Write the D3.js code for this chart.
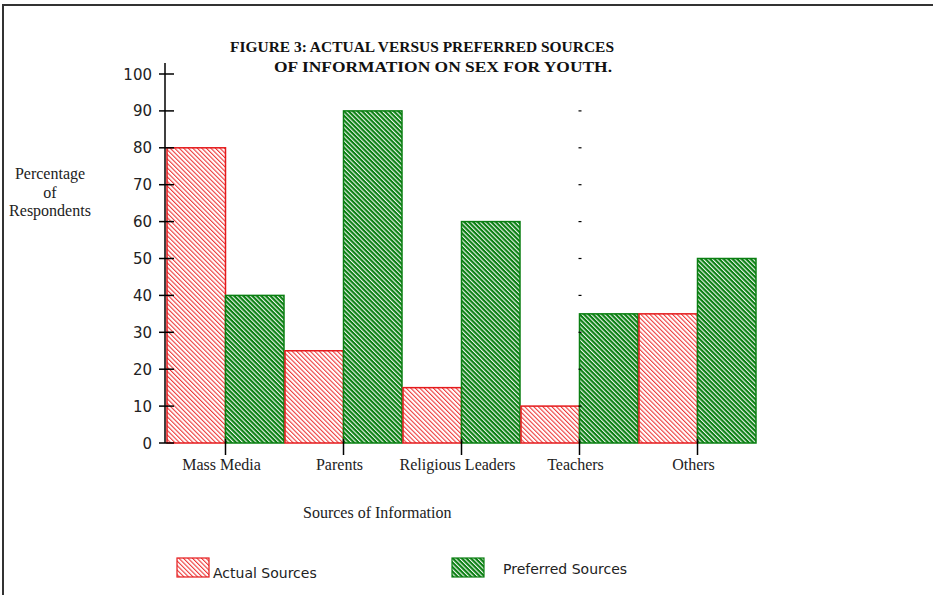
<!DOCTYPE html>
<html>
<head>
<meta charset="utf-8">
<script src="https://cdn.jsdelivr.net/npm/d3@7"></script>
<style>
  body { margin: 0; background: #fff; }
  svg { display: block; }
</style>
</head>
<body>
<div id="chart"></div>
<script>
var categories = ["Mass Media", "Parents", "Religious Leaders", "Teachers", "Others"];
var actualSources = [80, 25, 15, 10, 35];
var preferredSources = [40, 90, 60, 35, 50];
var seriesNames = ["Actual Sources", "Preferred Sources"];
var yTicks = [0, 10, 20, 30, 40, 50, 60, 70, 80, 90, 100];

var w = 933, h = 595;
var red = "#e41a1c", green = "#0a7f12";
var serif = "'Liberation Serif', 'Times New Roman', serif";
var sans = "'DejaVu Sans', Verdana, sans-serif";

var svg = d3.select("#chart").append("svg")
  .attr("width", w)
  .attr("height", h);

// hatch patterns
var defs = svg.append("defs");
var pr = defs.append("pattern")
  .attr("id", "hatchRed")
  .attr("patternUnits", "userSpaceOnUse")
  .attr("width", 3.2).attr("height", 3.2)
  .attr("patternTransform", "rotate(-45)");
pr.append("rect").attr("width", 3.2).attr("height", 3.2).attr("fill", "#fff");
pr.append("rect").attr("width", 1.1).attr("height", 3.2).attr("fill", "#ee3a3a");

var pg = defs.append("pattern")
  .attr("id", "hatchGreen")
  .attr("patternUnits", "userSpaceOnUse")
  .attr("width", 3.2).attr("height", 3.2)
  .attr("patternTransform", "rotate(-45)");
pg.append("rect").attr("width", 3.2).attr("height", 3.2).attr("fill", green);
pg.append("rect").attr("width", 1.1).attr("height", 3.2).attr("fill", "#eef6ee");

// frame
svg.append("rect")
  .attr("x", 3).attr("y", 5)
  .attr("width", 960).attr("height", 620)
  .attr("fill", "none")
  .attr("stroke", "#333")
  .attr("stroke-width", 2);

var y = d3.scaleLinear().domain([0, 100]).range([443, 74]);
var x0 = d3.scaleBand().domain(categories).range([166, 756]);
var x1 = d3.scaleBand().domain(["actual", "preferred"]).range([1, x0.bandwidth()]);

var rows = categories.map(function(c, i) {
  return { cat: c, actual: actualSources[i], preferred: preferredSources[i] };
});

// bars
var groups = svg.selectAll(".grp")
  .data(rows)
  .enter().append("g")
  .attr("class", "grp")
  .attr("transform", function(d) { return "translate(" + x0(d.cat) + ",0)"; });

groups.append("rect")
  .attr("x", x1("actual"))
  .attr("y", function(d) { return y(d.actual); })
  .attr("width", x1.bandwidth())
  .attr("height", function(d) { return y(0) - y(d.actual); })
  .attr("fill", "url(#hatchRed)")
  .attr("stroke", red)
  .attr("stroke-width", 1.5);

groups.append("rect")
  .attr("x", x1("preferred"))
  .attr("y", function(d) { return y(d.preferred); })
  .attr("width", x1.bandwidth())
  .attr("height", function(d) { return y(0) - y(d.preferred); })
  .attr("fill", "url(#hatchGreen)")
  .attr("stroke", green)
  .attr("stroke-width", 1.5);

// y axis
var yAxis = svg.append("g").attr("transform", "translate(165,0)");
yAxis.append("line")
  .attr("x1", 0).attr("x2", 0)
  .attr("y1", 63).attr("y2", y(0))
  .attr("stroke", "#000").attr("stroke-width", 1.5);
yAxis.selectAll(".tk")
  .data(yTicks)
  .enter().append("line")
  .attr("x1", -6).attr("x2", 9)
  .attr("y1", function(d) { return y(d); })
  .attr("y2", function(d) { return y(d); })
  .attr("stroke", "#000").attr("stroke-width", 1.5);
yAxis.selectAll(".lb")
  .data(yTicks)
  .enter().append("text")
  .attr("x", -13)
  .attr("y", function(d) { return y(d) + 5.5; })
  .attr("text-anchor", "end")
  .style("font-family", sans)
  .style("font-size", "15px")
  .attr("fill", "#222")
  .text(function(d) { return d; });

// stray tick dashes in the middle of the chart
svg.selectAll(".dash")
  .data(yTicks.filter(function(d) { return d > 0 && d < 100; }))
  .enter().append("line")
  .attr("x1", x0("Teachers") + x1("preferred") - 1)
  .attr("x2", x0("Teachers") + x1("preferred") + 2)
  .attr("y1", function(d) { return y(d); })
  .attr("y2", function(d) { return y(d); })
  .attr("stroke", "#000").attr("stroke-width", 1.2);

// x ticks + labels
var xt = svg.selectAll(".xt")
  .data(categories)
  .enter().append("g")
  .attr("transform", function(d) { return "translate(" + (x0(d) + x1("preferred")) + "," + y(0) + ")"; });
xt.append("line")
  .attr("y1", -4).attr("y2", 12)
  .attr("stroke", "#000").attr("stroke-width", 1.5);
xt.append("text")
  .attr("x", -4)
  .attr("y", 27)
  .attr("text-anchor", "middle")
  .style("font-family", serif)
  .style("font-size", "16px")
  .attr("fill", "#222")
  .text(function(d) { return d; });

// title
var title = svg.append("text")
  .style("font-family", serif)
  .style("font-size", "14px")
  .style("font-weight", "bold")
  .attr("fill", "#111");
title.append("tspan").attr("x", 230).attr("y", 52)
  .attr("textLength", 384).attr("lengthAdjust", "spacingAndGlyphs")
  .text("FIGURE 3:  ACTUAL VERSUS PREFERRED SOURCES");
title.append("tspan").attr("x", 274).attr("y", 72)
  .attr("textLength", 338).attr("lengthAdjust", "spacingAndGlyphs")
  .text("OF INFORMATION ON SEX FOR YOUTH.");

// y axis title
var yl = svg.append("text")
  .attr("text-anchor", "middle")
  .style("font-family", serif)
  .style("font-size", "16px")
  .attr("fill", "#222");
["Percentage", "of", "Respondents"].forEach(function(t, i) {
  yl.append("tspan").attr("x", 50).attr("y", 179 + i * 18.5).text(t);
});

// x axis title
svg.append("text")
  .attr("x", 303).attr("y", 518)
  .style("font-family", serif)
  .style("font-size", "16px")
  .attr("fill", "#222")
  .text("Sources of Information");

// legend
var legend = [
  { name: seriesNames[0], fill: "url(#hatchRed)", stroke: red, x: 177, y: 558, tx: 213, ty: 578 },
  { name: seriesNames[1], fill: "url(#hatchGreen)", stroke: green, x: 452, y: 558, tx: 503, ty: 574 }
];
var lg = svg.selectAll(".lg").data(legend).enter().append("g");
lg.append("rect")
  .attr("x", function(d) { return d.x; })
  .attr("y", function(d) { return d.y; })
  .attr("width", 32).attr("height", 19)
  .attr("fill", function(d) { return d.fill; })
  .attr("stroke", function(d) { return d.stroke; })
  .attr("stroke-width", 1.2);
lg.append("text")
  .attr("x", function(d) { return d.tx; })
  .attr("y", function(d) { return d.ty; })
  .style("font-family", sans)
  .style("font-size", "14px")
  .attr("fill", "#222")
  .text(function(d) { return d.name; });
</script>
</body>
</html>
